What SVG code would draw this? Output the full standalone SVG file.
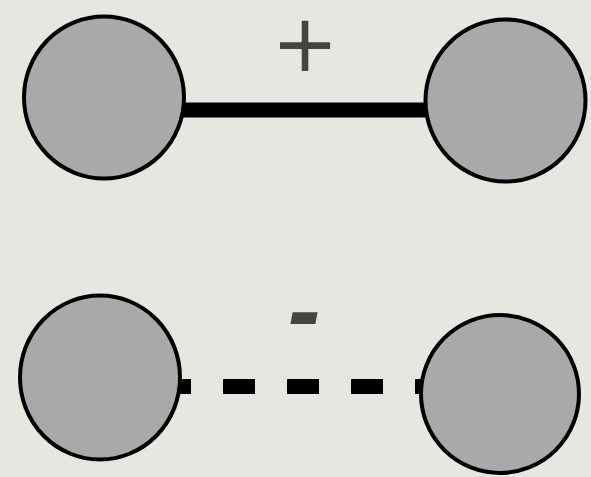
<svg xmlns="http://www.w3.org/2000/svg" width="591" height="477" viewBox="0 0 591 477">
<style>
.node{fill:#a9a9a9;stroke:#000;stroke-width:4}
.edge{stroke:#000;stroke-width:15;fill:none}
.lbl{fill:#444;text-anchor:middle}
</style>
<rect width="591" height="477" fill="#e8e6e1"/>
<g id="connectors">
<line class="edge" x1="104" y1="110" x2="505" y2="110"/>
<line class="edge" x1="159" y1="386.5" x2="480" y2="386.5" stroke-dasharray="32 32"/>
<text class="lbl" x="305" y="70.5" font-size="80" font-family="'DejaVu Sans',sans-serif">+</text>
<text class="lbl" x="304" y="344" font-size="98" font-weight="bold" font-style="italic" font-family="'Liberation Sans',Arial,sans-serif">-</text>
</g>
<g id="n1"><ellipse class="node" cx="104" cy="97.5" rx="80" ry="81"/></g>
<g id="n2"><ellipse class="node" cx="505.5" cy="100.5" rx="80" ry="81"/></g>
<g id="n3"><ellipse class="node" cx="100" cy="377.5" rx="80" ry="82"/></g>
<g id="n4"><ellipse class="node" cx="500" cy="394" rx="79" ry="79"/></g>
</svg>
